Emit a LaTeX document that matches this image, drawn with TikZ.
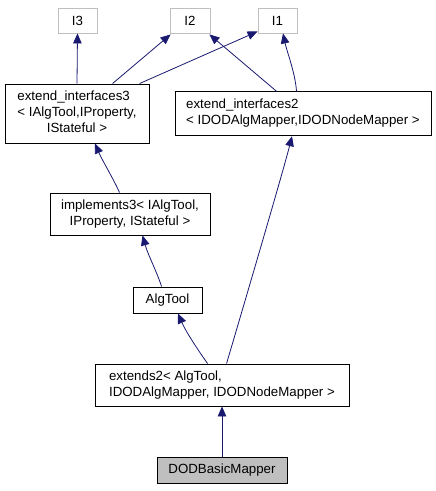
\documentclass[tikz,border=0pt]{standalone}
\usepackage{fontspec}
\setmainfont{Liberation Sans}
\usetikzlibrary{arrows.meta}
\definecolor{edgecol}{HTML}{191970}
\definecolor{ifacegray}{HTML}{BFBFBF}
\begin{document}
\begin{tikzpicture}[x=1pt,y=-1pt,
  every node/.style={font=\fontsize{13.3}{16}\selectfont, inner sep=0pt, anchor=center},
  cls/.style={draw=black, line width=0.9pt, fill=white},
  iface/.style={draw=ifacegray, line width=0.9pt, fill=white},
  cur/.style={draw=black, line width=0.9pt, fill=ifacegray},
  inh/.style={draw=edgecol, line width=0.8pt, -{Triangle[length=10pt,width=8.5pt]}, edgecol}]
\useasboundingbox[fill=white] (0,0) rectangle (436,491);
% interface boxes
\node[iface, minimum width=39pt, minimum height=25pt] (i3) at (77.5,20.5) {I3};
\node[iface, minimum width=40pt, minimum height=25pt] (i2) at (190,20.5) {I2};
\node[iface, minimum width=39pt, minimum height=25pt] (i1) at (277.5,20.5) {I1};
% classes
\node[cls, minimum width=144pt, minimum height=59pt] (ext3) at (77,113.5)
  {\begin{tabular}{@{}l@{}}extend\_interfaces3\\< IAlgTool,IProperty,\\\multicolumn{1}{@{}c@{}}{IStateful >}\end{tabular}};
\node[cls, minimum width=256pt, minimum height=44pt] (ext2) at (303,113.75)
  {\begin{tabular}{@{}l@{}}extend\_interfaces2\\< IDODAlgMapper,IDODNodeMapper >\end{tabular}};
\node[cls, minimum width=160pt, minimum height=42pt] (impl) at (130,214)
  {\begin{tabular}{@{}c@{}}implements3< IAlgTool,\\IProperty, IStateful >\end{tabular}};
\node[cls, minimum width=69pt, minimum height=26pt] (alg) at (167.5,300) {AlgTool};
\node[cls, minimum width=254pt, minimum height=42pt] (exts) at (222,385)
  {\begin{tabular}{@{}l@{}}extends2< AlgTool,\\ IDODAlgMapper, IDODNodeMapper >\end{tabular}};
\node[cur, minimum width=130pt, minimum height=26pt] (dod) at (222,470) {DODBasicMapper};
% inheritance edges
\draw[inh] (ext3.north) -- (i3.south);
\draw[inh] ([xshift=108pt]ext3.north west) -- ([xshift=1pt,yshift=-1pt]i2.south west);
\draw[inh] ([xshift=135pt]ext3.north west) -- ([yshift=2pt]i1.south west);
\draw[inh] ([xshift=102pt]ext2.north west) -- ([xshift=-1pt,yshift=-1pt]i2.south east);
\draw[inh] ([xshift=122pt]ext2.north west) .. controls (295,72) and (287,52) .. ([xshift=5.5pt]i1.south);
\draw[inh] ([xshift=70pt]impl.north west) .. controls (113,178) and (102,160) .. ([xshift=18pt]ext3.south);
\draw[inh] ([xshift=29pt]alg.north west) .. controls (157,272) and (148,255) .. ([xshift=12.5pt]impl.south);
\draw[inh] ([xshift=113pt]exts.north west) .. controls (198,350) and (186,332) .. ([xshift=10.5pt]alg.south);
\draw[inh] ([xshift=132pt]exts.north west) .. controls (240,318) and (283,172) .. ([xshift=-11pt]ext2.south);
\draw[inh] (dod.north) -- (exts.south);
\end{tikzpicture}
\end{document}
